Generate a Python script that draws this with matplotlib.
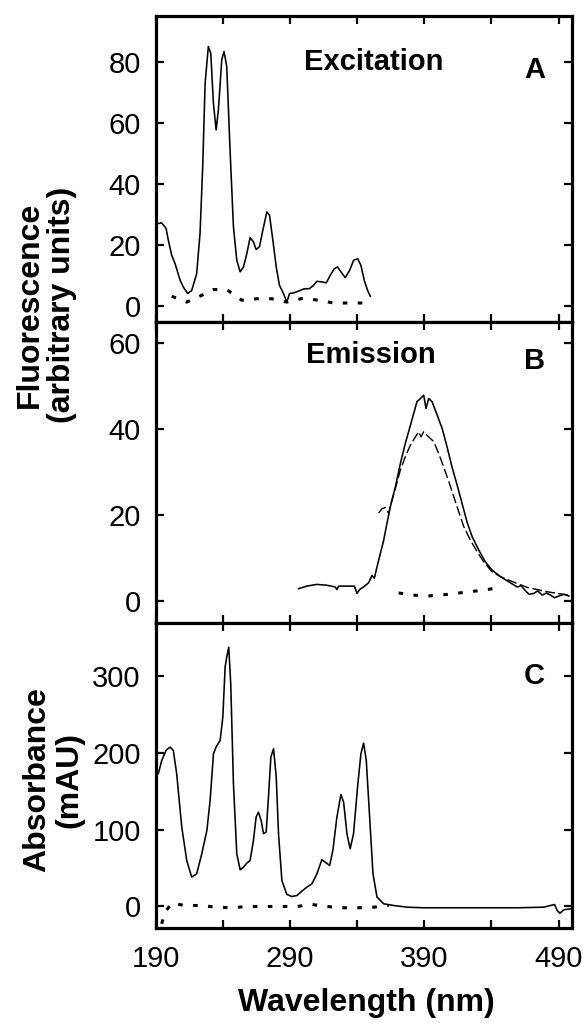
import matplotlib
matplotlib.use("Agg")
import matplotlib.pyplot as plt

plt.rcParams['font.family'] = ['Liberation Sans', 'DejaVu Sans']

# ---- Panel A: excitation ----
exc_x = [191.7, 194.2, 197.5, 199.2, 201.7, 204.2, 208.0, 210.4, 213.6, 216.6, 220.3, 222.8,
         224.8, 226.6, 229.0, 230.8, 232.8, 234.8, 236.5, 239.0, 240.7, 242.7, 245.2, 247.7,
         250.2, 252.7, 255.2, 257.7, 260.1, 262.6, 264.6, 267.1, 269.6, 272.6, 274.6, 277.1,
         279.6, 282.0, 285.0, 287.5, 289.5, 292.5, 296.2, 300.0, 304.4, 307.4, 309.9, 313.6,
         316.9, 319.9, 322.8, 325.3, 327.8, 331.0, 334.3, 337.3, 340.3, 342.7, 345.2, 347.7, 349.7]
exc_y = [27.1, 27.3, 25.5, 21.6, 16.7, 14.0, 8.5, 6.3, 4.2, 5.2, 10.7, 23.8,
         45.7, 73.0, 85.0, 82.8, 66.4, 57.7, 64.3, 80.7, 83.4, 78.5, 51.1, 26.0,
         15.1, 11.3, 12.9, 17.3, 22.5, 21.1, 18.6, 19.5, 24.9, 30.9, 29.8, 21.6,
         12.9, 6.9, 4.2, 1.4, 4.2, 4.4, 5.0, 5.7, 5.8, 6.9, 8.2, 8.0,
         7.7, 10.2, 12.3, 12.9, 11.3, 9.4, 11.8, 15.1, 15.6, 13.4, 8.5, 5.2, 3.3]
exc_blank_x = [201.7, 212.9, 224.0, 232.8, 242.7, 253.9, 265.1, 276.3, 287.5, 300.0,
               311.0, 322.3, 334.7, 345.9]
exc_blank_y = [3.3, 1.4, 3.6, 5.5, 5.5, 2.0, 2.5, 2.5, 1.4, 2.7, 2.0, 1.1, 1.1, 1.1]

# ---- Panel B: emission ----
em1_x = [296.2, 302.4, 309.9, 317.4, 323.6, 324.8, 326.1, 332.3, 337.8, 339.8, 341.7, 344.7,
         348.5, 351.0, 352.7, 354.7, 357.2, 359.7, 362.1, 364.6, 368.4, 372.1, 375.8, 379.6,
         382.0, 384.5, 387.0, 389.5, 391.2, 393.2, 395.7, 399.5, 403.2, 406.9, 410.6, 414.4,
         418.1, 421.8, 425.6, 430.5, 435.5, 440.5, 446.7, 452.9, 459.2, 462.0, 465.4, 468.0,
         471.6, 474.5, 477.8, 481.0, 484.0, 487.0, 490.2, 494.0, 497.7]
em1_y = [2.9, 3.5, 3.9, 3.7, 3.3, 2.7, 3.5, 3.5, 3.5, 1.8, 2.7, 3.3,
         4.3, 6.0, 5.3, 8.0, 11.1, 14.2, 18.1, 21.9, 26.6, 32.0, 36.7, 40.9,
         43.6, 46.4, 47.1, 47.9, 44.8, 47.1, 46.4, 43.3, 40.2, 35.9, 31.2, 27.0,
         22.7, 18.4, 15.0, 11.9, 9.1, 7.2, 5.7, 4.5, 3.3, 3.6, 2.4, 1.6,
         1.8, 2.4, 1.4, 1.9, 1.4, 0.8, 1.2, 1.6, 1.2]
em2_x = [355.9, 358.4, 360.9, 363.4, 365.1, 368.4, 372.1, 375.8, 379.6, 383.3, 385.8, 387.5,
         389.5, 393.2, 397.0, 400.7, 404.4, 408.2, 411.9, 415.6, 419.4, 424.3, 429.3, 434.3,
         440.5, 446.7, 452.9, 459.2, 466.6, 474.1, 481.6, 489.0, 497.7]
em2_y = [20.5, 21.5, 21.8, 20.4, 22.7, 26.2, 30.5, 33.6, 36.3, 38.2, 39.4, 38.2,
         39.4, 38.2, 37.1, 34.3, 31.2, 27.8, 24.3, 20.8, 17.3, 14.2, 11.5, 9.1,
         6.8, 5.7, 4.9, 4.1, 3.2, 2.7, 2.2, 1.8, 1.4]
em_blank_x = [370.8, 382.0, 392.0, 402.0, 413.1, 424.3, 436.8, 448.0]
em_blank_y = [1.9, 1.4, 1.2, 1.4, 1.8, 2.2, 2.7, 3.3]

# ---- Panel C: absorbance ----
abs_x = [191.7, 194.2, 197.5, 200.4, 202.9, 205.4, 209.2, 212.9, 216.6, 220.3, 224.1, 227.9,
         230.3, 232.8, 234.8, 237.8, 239.8, 241.5, 242.7, 244.2, 245.7, 247.7, 250.2, 252.7,
         255.2, 257.7, 260.1, 262.6, 264.6, 266.3, 268.4, 270.1, 272.1, 273.8, 275.6, 277.6,
         279.6, 281.3, 283.8, 287.5, 291.2, 295.0, 298.7, 302.4, 306.2, 309.9, 313.6, 316.1,
         319.4, 321.8, 324.8, 327.8, 329.8, 332.3, 334.7, 337.2, 340.2, 342.7, 344.7, 346.7,
         349.2, 351.7, 354.7, 359.7, 367.1, 377.1, 389.5, 409.4, 434.3, 459.2, 479.0, 484.0,
         487.0, 489.0, 491.0, 494.0, 499.0]
abs_y = [173, 190, 203.5, 207.8, 203.5, 173, 103.5, 60, 38.3, 42.6, 68.7, 99,
         138, 199, 208, 216.5, 247, 312, 325, 338, 290, 160, 68.7, 47.8,
         51.3, 56.5, 60, 86, 116.5, 123, 112, 95, 97, 142.6, 194.8, 205.7,
         168.7, 94.8, 33.9, 15.7, 13, 14.3, 20, 25.2, 29.6, 42.6, 61, 57.8,
         53.5, 73, 116.5, 146, 136, 94.8, 75.2, 94.8, 155.7, 199, 213, 190.4,
         116.5, 42.6, 12.2, 3.5, 1.3, -0.9, -1.7, -1.7, -1.7, -1.7, -0.9, 1.3,
         2.6, -5.2, -8.7, -4.3, -3.0]
abs_blank_x = [194.2, 196.7, 201.7, 211.6, 222.8, 235.3, 246.5, 257.7, 270.1, 281.3, 295.0,
               306.2, 317.4, 328.6, 341.0, 352.2, 363.4]
abs_blank_y = [-22.6, -7.4, 4.3, 1.3, 1.3, -0.9, -1.7, 0, 0, 0, 0,
               2.6, 0, -1.7, -1.7, -0.9, 1.3]

x_ticks = [190, 240, 290, 340, 390, 440, 490]
x_ticklabels = ['190', '', '290', '', '390', '', '490']
yticks_A = [0, 20, 40, 60, 80]
yticks_B = [0, 20, 40, 60]
yticks_C = [0, 100, 200, 300]

fig = plt.figure(figsize=(5.83, 10.23), dpi=100)
gs = fig.add_gridspec(3, 1, height_ratios=[305.7, 301, 305.3], hspace=0,
                      left=0.2676, right=0.9811, top=0.9844, bottom=0.0929)
axA = fig.add_subplot(gs[0])
axB = fig.add_subplot(gs[1], sharex=axA)
axC = fig.add_subplot(gs[2], sharex=axA)

solid_kw = dict(color='black', lw=1.15)
dot_kw = dict(color='black', lw=2.2, linestyle=(0, (1.5, 3.4)), dash_capstyle='butt')

axA.plot(exc_x, exc_y, **solid_kw)
axA.plot(exc_blank_x, exc_blank_y, **dot_kw)
axB.plot(em1_x, em1_y, **solid_kw)
axB.plot(em2_x, em2_y, color='black', lw=1.0, linestyle=(0, (7, 2.5)))
axB.plot(em_blank_x, em_blank_y, **dot_kw)
axC.plot(abs_x, abs_y, **solid_kw)
axC.plot(abs_blank_x, abs_blank_y, **dot_kw)

axA.set_ylim(-5, 95)
axB.set_ylim(-5, 65)
axC.set_ylim(-28, 370)
axA.set_xlim(190, 500)

axA.set_yticks(yticks_A)
axB.set_yticks(yticks_B)
axC.set_yticks(yticks_C)
axC.set_xticks(x_ticks)
axC.set_xticklabels(x_ticklabels)

for ax in (axA, axB, axC):
    for s in ax.spines.values():
        s.set_linewidth(2.3)
    ax.tick_params(direction='in', length=6, width=1.6, top=True, right=True,
                   labelsize=21, pad=11)
for ax in (axA, axB):
    ax.tick_params(labelbottom=False)
axC.tick_params(axis='x', pad=12)

txt_kw = dict(fontsize=21, fontweight='bold', ha='center', va='center')
axA.text(352.5, 80, 'Excitation', **txt_kw)
axA.text(472, 77.4, 'A', **txt_kw)
axB.text(350, 57.2, 'Emission', **txt_kw)
axB.text(472, 55.8, 'B', **txt_kw)
axC.text(472, 301, 'C', **txt_kw)

lab_kw = dict(fontsize=23, fontweight='bold', ha='center', va='center', rotation=90,
              linespacing=1.1)
fig.text(46 / 583, 1 - 305 / 1023, 'Fluorescence\n(arbitrary units)', **lab_kw)
fig.text(53 / 583, 1 - 780 / 1023, 'Absorbance\n(mAU)', **lab_kw)
fig.text(366 / 583, 1 - 1003 / 1023, 'Wavelength (nm)', fontsize=23, fontweight='bold',
         ha='center', va='center')

fig.savefig('out.png', dpi=100)
